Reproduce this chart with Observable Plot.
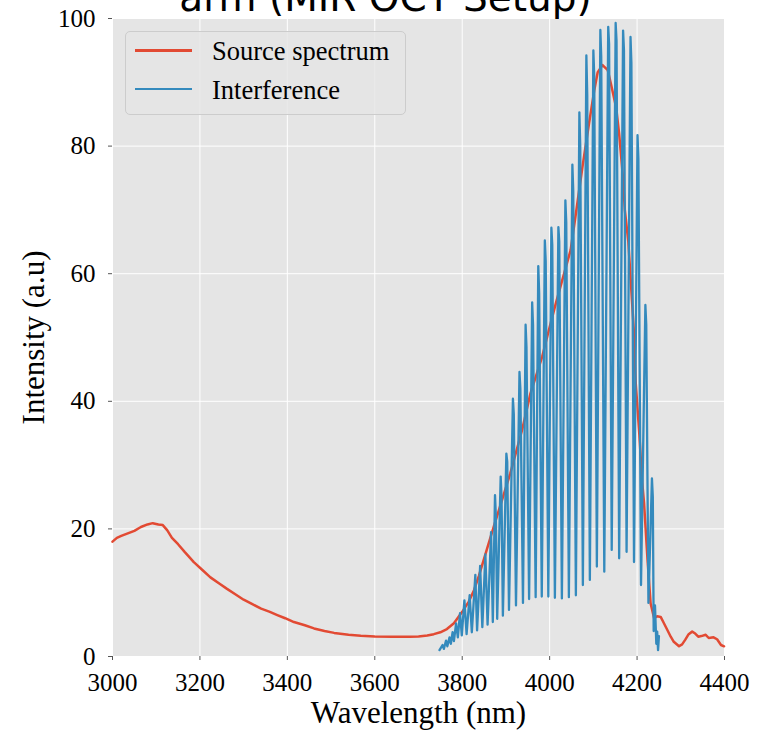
<!DOCTYPE html>
<html>
<head>
<meta charset="utf-8">
<script src="https://cdn.jsdelivr.net/npm/d3@7"></script>
<script src="https://cdn.jsdelivr.net/npm/@observablehq/plot@0.6"></script>
<style>
  body { margin: 0; background: #ffffff; }
  #wrap { position: relative; width: 765px; height: 736px; overflow: hidden; }
  #title { position: absolute; left: 0; width: 771px; top: -22px; text-align: center; font-family: "DejaVu Sans", sans-serif; font-size: 39px; line-height: 39px; color: #000; white-space: nowrap; }
  #legend { position: absolute; left: 125px; top: 31px; width: 279px; height: 82px; border: 1px solid #cccccc; border-radius: 5px; background: rgba(229,229,229,0.8); }
  .lg-line { position: absolute; height: 2.5px; width: 57px; left: 135px; }
  .lg-text { position: absolute; left: 212px; font-family: "Liberation Serif", serif; font-size: 26.5px; line-height: 26.5px; color: #000; white-space: nowrap; }
</style>
</head>
<body>
<div id="wrap">
  <div id="chart"></div>
  <div id="title">arm (MIR OCT Setup)</div>
  <div id="legend"></div>
  <div class="lg-line" style="top:49px;background:#E24A33;"></div>
  <div class="lg-text" style="top:38px;">Source spectrum</div>
  <div class="lg-line" style="top:88px;background:#348ABD;height:2px;"></div>
  <div class="lg-text" style="top:77px;">Interference</div>
</div>
<script>
// Tick values
const xTicks = [3000, 3200, 3400, 3600, 3800, 4000, 4200, 4400];
const yTicks = [0, 20, 40, 60, 80, 100];

// Series names
const seriesNames = ["Source spectrum", "Interference"];

// Source spectrum (wavelength nm, intensity a.u.)
const srcWl = [3000,3010,3020,3035,3050,3065,3080,3092,3105,3115,3125,3136,3150,3165,3186,3205,3224,3245,3262,3280,
  3300,3320,3340,3360,3377,3395,3415,3440,3461,3485,3507,3540,3568,3600,3640,3680,3700,3720,3735,3750,
  3765,3781,3800,3815,3827,3838,3849,3860,3872,3891,3910,3937,3956,3983,3998,4014,4033,4048,4060,4075,
  4090,4102,4110,4121,4133,4140,4152,4159,4167,4172,4180,4186,4193,4197,4205,4212,4216,4224,4231,4239,
  4246,4254,4260,4269,4277,4284,4296,4303,4310,4318,4326,4333,4340,4347,4357,4364,4375,4383,4392,4399];
const srcVal = [18.0,18.6,18.9,19.3,19.7,20.3,20.7,20.9,20.7,20.6,19.8,18.6,17.6,16.4,14.8,13.6,12.4,11.4,10.6,9.8,
  8.9,8.2,7.5,7.0,6.5,6.0,5.4,4.9,4.4,4.0,3.7,3.4,3.25,3.15,3.1,3.1,3.15,3.3,3.5,3.8,
  4.3,5.2,7.0,8.6,10.4,12.6,15.1,17.6,20.3,24.5,28.7,35.5,41.2,47.0,51.1,55.3,60.0,63.7,69.4,76.7,
  83.5,88.7,91.6,92.7,91.9,89.8,86.1,81.9,75.7,70.0,65.0,58.4,50.6,42.8,35.0,27.1,24.0,15.1,8.3,6.0,
  6.3,6.2,5.4,4.2,3.1,2.3,1.6,1.9,2.6,3.5,3.9,3.6,3.1,3.2,3.4,2.9,3.0,2.7,1.8,1.6];

// Interference signal (wavelength nm, intensity a.u.): troughs, main peaks and secondary peaks of each fringe
const ifWl = [3748,3755,3758,3763,3766,3771,3774,3778,3781,3786,3790,3795,3799,3805,3810,3817,3822,3830,3834,3841,
  3846,3853,3858,3866,3870,3875,3877,3880,3888,3890,3893,3901,3903,3907,3916,3918,3923,3931,3933,3939,
  3945,3947,3953,3960,3962,3968,3974,3976,3982,3989,3991,3997,4004,4006,4012,4020,4022,4028,4036,4038,
  4044,4052,4054,4060,4068,4070,4076,4084,4086,4092,4100,4102,4108,4116,4118,4125,4134,4136,4142,4151,
  4153,4159,4168,4170,4176,4185,4187,4193,4201,4203,4209,4219,4221,4226,4234,4236,4238,4241,4244,4246,4248,4250];
const ifVal = [1.0,1.8,1.2,2.5,1.6,3.0,2.0,3.8,2.4,5.2,3.0,6.8,3.3,8.8,3.5,9.6,3.8,12.8,4.1,14.2,
  4.6,16.0,5.0,19.5,5.4,25.3,22.0,5.9,28.2,25.0,6.4,31.8,30.5,7.3,40.4,38.0,8.0,44.6,42.0,8.4,
  52.0,48.5,9.0,55.5,52.0,9.3,61.2,57.0,9.4,65.2,62.0,9.4,67.2,64.5,9.2,67.3,65.0,9.1,71.5,68.0,
  9.3,77.1,73.0,9.6,85.3,80.0,11.2,94.2,88.0,12.0,95.0,91.0,14.1,98.2,94.0,13.3,98.7,96.0,16.7,99.3,
  96.5,15.4,98.1,95.0,16.4,97.1,93.0,14.8,81.7,78.0,11.2,55.1,52.0,8.4,27.9,25.0,4.0,8.0,2.0,3.9,1.0,3.2];

const src = srcWl.map((w, i) => ({wl: w, v: srcVal[i]}));
const inter = ifWl.map((w, i) => ({wl: w, v: ifVal[i]}));

const font = "'Liberation Serif', serif";

const chart = Plot.plot({
  width: 765,
  height: 736,
  marginLeft: 112,
  marginRight: 41,
  marginTop: 18,
  marginBottom: 80,
  style: {fontFamily: font, background: "white", color: "#000"},
  x: {domain: [3000, 4400], label: null},
  y: {domain: [0, 100], label: null},
  marks: [
    Plot.frame({fill: "#E5E5E5", stroke: null}),
    Plot.gridX(xTicks, {stroke: "white", strokeOpacity: 1, strokeWidth: 1}),
    Plot.gridY(yTicks, {stroke: "white", strokeOpacity: 1, strokeWidth: 1}),
    Plot.axisX({ticks: xTicks, tickSize: 4, tickPadding: 13, fontSize: 25, tickFormat: d => String(d), label: null, stroke: "#555", fill: "#000"}),
    Plot.axisY({ticks: yTicks, tickSize: 4, tickPadding: 13, fontSize: 25, tickFormat: d => String(d), label: null, stroke: "#555", fill: "#000"}),
    Plot.line(src, {x: "wl", y: "v", stroke: "#E24A33", strokeWidth: 2.5}),
    Plot.line(inter, {x: "wl", y: "v", stroke: "#348ABD", strokeWidth: 2.3}),
    Plot.text(["Wavelength (nm)"], {frameAnchor: "bottom", dy: 66, fontSize: 31, fill: "#000"}),
    Plot.text(["Intensity (a.u)"], {frameAnchor: "left", textAnchor: "middle", dx: -78, rotate: -90, fontSize: 31, fill: "#000"})
  ]
});
document.getElementById("chart").appendChild(chart);
</script>
</body>
</html>
